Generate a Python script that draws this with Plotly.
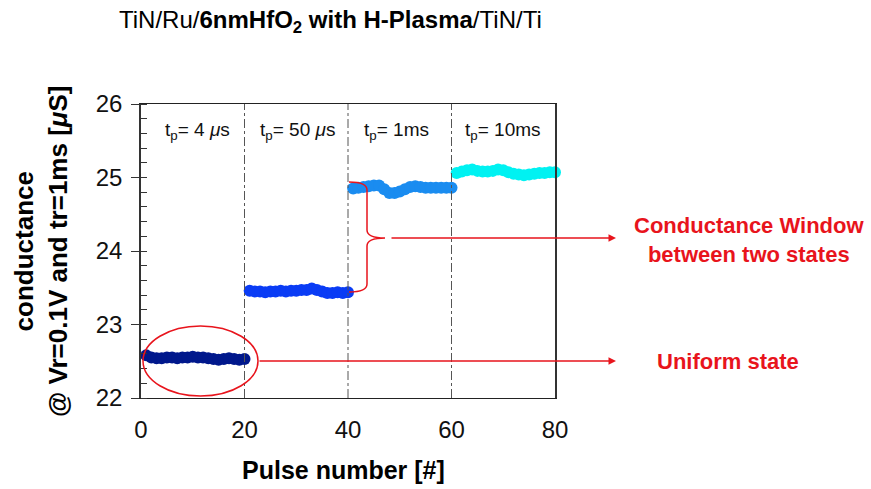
import plotly.graph_objects as go

# ---- data ----
pulse_1 = list(range(1, 21))
pulse_2 = list(range(21, 41))
pulse_3 = list(range(41, 61))
pulse_4 = list(range(61, 81))

g_4us = [22.58, 22.55, 22.54, 22.54, 22.55, 22.55, 22.54, 22.55, 22.55, 22.56,
         22.55, 22.55, 22.54, 22.53, 22.52, 22.53, 22.54, 22.53, 22.52, 22.53]
g_50us = [23.46, 23.45, 23.45, 23.44, 23.45, 23.45, 23.46, 23.45, 23.46, 23.46,
          23.47, 23.47, 23.49, 23.47, 23.45, 23.43, 23.43, 23.44, 23.43, 23.44]
g_1ms = [24.85, 24.86, 24.87, 24.88, 24.89, 24.89, 24.84, 24.79, 24.79, 24.81,
         24.84, 24.87, 24.88, 24.87, 24.86, 24.86, 24.86, 24.86, 24.86, 24.86]
g_10ms = [25.06, 25.08, 25.10, 25.11, 25.09, 25.08, 25.08, 25.09, 25.11, 25.10,
          25.07, 25.05, 25.04, 25.03, 25.04, 25.05, 25.06, 25.06, 25.07, 25.07]

segment_labels = ["t<sub>p</sub>= 4 <i>\u03bc</i>s", "t<sub>p</sub>= 50 <i>\u03bc</i>s",
                  "t<sub>p</sub>= 1ms", "t<sub>p</sub>= 10ms"]
segment_bounds = [20, 40, 60]

FONT = "Liberation Sans, Arial, sans-serif"
RED = "#e8141c"

fig = go.Figure()
series = [(pulse_1, g_4us, "#00188c"), (pulse_2, g_50us, "#0a3cf5"),
          (pulse_3, g_1ms, "#1a8cf0"), (pulse_4, g_10ms, "#00f2f2")]
for xs, ys, c in series:
    fig.add_trace(go.Scatter(x=xs, y=ys, mode="markers", cliponaxis=False,
                             marker=dict(size=12, color=c, line=dict(width=0)),
                             showlegend=False))

shapes = []
for b in segment_bounds:
    shapes.append(dict(type="line", xref="x", yref="paper", x0=b, x1=b, y0=0, y1=1,
                       line=dict(color="#555555", width=1, dash="dashdot")))

# layout geometry helpers (pixel -> data / paper) for annotation shapes
L, T, W, H = 141, 104, 414, 294
def px(xp):
    return (xp - L) / W * 80
def py(yp):
    return 22 + (T + H - yp) / H * 4
def ppx(xp):
    return (xp - L) / W
def ppy(yp):
    return (T + H - yp) / H

# ellipse around uniform state
shapes.append(dict(type="circle", xref="x", yref="y", x0=px(143), x1=px(258),
                   y0=py(396), y1=py(326), line=dict(color=RED, width=1.5)))
# curly brace
path = (f"M {px(349)},{py(182)} Q {px(367)},{py(182)} {px(367)},{py(190)} "
        f"L {px(367)},{py(230)} Q {px(367)},{py(238)} {px(385)},{py(238)} "
        f"Q {px(367)},{py(238)} {px(367)},{py(246)} "
        f"L {px(367)},{py(284)} Q {px(367)},{py(292)} {px(349)},{py(292)}")
shapes.append(dict(type="path", xref="x", yref="y", path=path,
                   line=dict(color=RED, width=1.5)))

annotations = []
label_x = [4.25, 22.6, 42.7, 62.2]
for lx, t in zip(label_x, segment_labels):
    annotations.append(dict(x=lx, y=25.63, xref="x", yref="y", text=t, showarrow=False,
                            xanchor="left", yanchor="middle",
                            font=dict(family=FONT, size=19, color="#111111")))
# arrows
annotations.append(dict(x=px(616), y=py(361), xref="x", yref="y", ax=px(258), ay=py(361),
                        axref="x", ayref="y", text="", showarrow=True, arrowhead=2,
                        arrowsize=1, arrowwidth=1.5, arrowcolor=RED))
annotations.append(dict(x=px(616), y=py(238), xref="x", yref="y", ax=px(390), ay=py(238),
                        axref="x", ayref="y", text="", showarrow=True, arrowhead=2,
                        arrowsize=1, arrowwidth=1.5, arrowcolor=RED))
annotations.append(dict(x=ppx(749), y=ppy(240), xref="paper", yref="paper", showarrow=False,
                        text="<b>Conductance Window<br>between two states</b>",
                        xanchor="center", yanchor="middle",
                        font=dict(family=FONT, size=22, color=RED)))
annotations.append(dict(x=ppx(728), y=ppy(361), xref="paper", yref="paper", showarrow=False,
                        text="<b>Uniform state</b>", xanchor="center", yanchor="middle",
                        font=dict(family=FONT, size=22, color=RED)))
# axis titles
annotations.append(dict(x=ppx(41), y=0.5, xref="paper", yref="paper", showarrow=False,
                        text="<b>conductance<br>@ Vr=0.1V and tr=1ms [<i>\u03bc</i>S]</b>",
                        textangle=-90, xanchor="center", yanchor="middle",
                        font=dict(family=FONT, size=26, color="#000000")))
annotations.append(dict(x=ppx(343), y=ppy(470), xref="paper", yref="paper",
                        showarrow=False, text="<b>Pulse number [#]</b>",
                        xanchor="center", yanchor="middle",
                        font=dict(family=FONT, size=25, color="#000000")))
# title
annotations.append(dict(x=ppx(330), y=ppy(22), xref="paper", yref="paper",
                        showarrow=False,
                        text="TiN/Ru/<b>6nmHfO<sub>2</sub> with H-Plasma</b>/TiN/Ti",
                        xanchor="center", yanchor="middle",
                        font=dict(family=FONT, size=24, color="#000000")))

fig.update_layout(
    width=871, height=489,
    margin=dict(l=L, r=871 - L - W, t=T, b=489 - T - H),
    paper_bgcolor="white", plot_bgcolor="white",
    shapes=shapes, annotations=annotations,
    xaxis=dict(range=[0, 80], tickvals=[0, 20, 40, 60, 80], ticks="",
               showline=True, linecolor="#222222", linewidth=1.2, mirror=True,
               showgrid=False, zeroline=False, ticklabelstandoff=10,
               tickfont=dict(family=FONT, size=24, color="#111111")),
    yaxis=dict(range=[22, 26], tickvals=[22, 23, 24, 25, 26], ticks="outside",
               ticklen=8, tickcolor="#333333", tickwidth=1.2,
               minor=dict(dtick=0.2, ticks="inside", ticklen=6, tickcolor="#333333"),
               showline=True, linecolor="#333333", linewidth=1.5, mirror=True,
               showgrid=False, zeroline=False, ticklabelstandoff=4,
               tickfont=dict(family=FONT, size=24, color="#111111")),
)

fig.write_html("out.html")
